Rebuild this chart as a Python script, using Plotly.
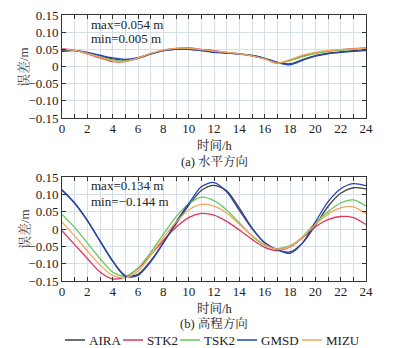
import plotly.graph_objects as go

# Hourly epochs (h)
hours = list(range(25))

# Horizontal error (m)
h_aira = [0.046, 0.047, 0.040, 0.031, 0.022, 0.018, 0.024, 0.036, 0.046, 0.051, 0.051, 0.047, 0.043, 0.040, 0.037, 0.032, 0.024, 0.012, 0.008, 0.020, 0.032, 0.039, 0.043, 0.046, 0.049]
h_stk2 = [0.051, 0.047, 0.037, 0.025, 0.014, 0.014, 0.024, 0.037, 0.048, 0.053, 0.054, 0.050, 0.046, 0.041, 0.037, 0.031, 0.022, 0.009, 0.018, 0.030, 0.039, 0.045, 0.049, 0.052, 0.054]
h_tsk2 = [0.049, 0.047, 0.039, 0.029, 0.019, 0.016, 0.025, 0.037, 0.047, 0.052, 0.052, 0.048, 0.044, 0.040, 0.037, 0.031, 0.023, 0.011, 0.017, 0.029, 0.038, 0.044, 0.048, 0.050, 0.052]
h_gmsd = [0.044, 0.046, 0.041, 0.033, 0.025, 0.021, 0.026, 0.037, 0.046, 0.050, 0.050, 0.046, 0.041, 0.039, 0.036, 0.032, 0.024, 0.012, 0.005, 0.018, 0.030, 0.037, 0.041, 0.044, 0.046]
h_mizu = [0.050, 0.047, 0.038, 0.027, 0.016, 0.015, 0.025, 0.038, 0.048, 0.053, 0.053, 0.049, 0.045, 0.041, 0.037, 0.031, 0.022, 0.010, 0.020, 0.033, 0.041, 0.046, 0.049, 0.051, 0.053]

# Vertical error (m)
v_aira = [0.112, 0.074, 0.024, -0.034, -0.092, -0.134, -0.131, -0.092, -0.040, 0.015, 0.068, 0.111, 0.126, 0.110, 0.060, 0.003, -0.040, -0.060, -0.066, -0.040, 0.010, 0.065, 0.103, 0.119, 0.116]
v_stk2 = [-0.005, -0.045, -0.085, -0.124, -0.144, -0.138, -0.114, -0.075, -0.033, 0.005, 0.033, 0.045, 0.040, 0.022, -0.003, -0.030, -0.053, -0.062, -0.052, -0.025, 0.006, 0.027, 0.036, 0.033, 0.013]
v_tsk2 = [0.042, 0.004, -0.040, -0.085, -0.124, -0.136, -0.113, -0.068, -0.015, 0.035, 0.072, 0.092, 0.082, 0.055, 0.018, -0.020, -0.047, -0.057, -0.048, -0.022, 0.018, 0.050, 0.075, 0.084, 0.066]
v_gmsd = [0.113, 0.075, 0.025, -0.035, -0.093, -0.137, -0.134, -0.095, -0.040, 0.020, 0.073, 0.122, 0.134, 0.107, 0.054, 0.001, -0.040, -0.060, -0.070, -0.040, 0.020, 0.078, 0.116, 0.131, 0.125]
v_mizu = [0.020, -0.020, -0.063, -0.104, -0.134, -0.140, -0.122, -0.075, -0.025, 0.020, 0.055, 0.071, 0.066, 0.046, 0.014, -0.018, -0.045, -0.058, -0.051, -0.024, 0.013, 0.043, 0.061, 0.064, 0.044]

stations = ["AIRA", "STK2", "TSK2", "GMSD", "MIZU"]
colors = ["#404040", "#e0365a", "#62c957", "#2342b5", "#f4a55a"]
horiz = [h_aira, h_stk2, h_tsk2, h_gmsd, h_mizu]
vert = [v_aira, v_stk2, v_tsk2, v_gmsd, v_mizu]

y_ticks = [0.15, 0.10, 0.05, 0, -0.05, -0.10, -0.15]
y_labels = ["0.15", "0.10", "0.05", "0", "\u22120.05", "\u22120.10", "\u22120.15"]

W, H = 393, 348
SERIF = "Liberation Serif, Times New Roman, serif"
CJK = "Liberation Serif, Noto Serif CJK SC, Noto Sans CJK SC, serif"


def px(x):
    return x / W


def py(y):
    return 1 - y / H


fig = go.Figure()

for name, col, hv, vv in zip(stations, colors, horiz, vert):
    for xa, ya, vals in (("x", "y", hv), ("x2", "y2", vv)):
        fig.add_trace(go.Scatter(x=hours, y=vals, mode="lines", name=name,
                                 line=dict(color=col, width=1.3, shape="spline", smoothing=0.8),
                                 xaxis=xa, yaxis=ya, showlegend=False))

xcommon = dict(range=[0, 24], dtick=2, tick0=0, ticks="inside", ticklen=4, tickwidth=1,
               tickcolor="#333", showline=True, linecolor="#333", linewidth=1, mirror="ticks",
               showgrid=True, gridcolor="#d6dfe8", gridwidth=1, zeroline=False,
               ticklabelstandoff=-2,
               tickfont=dict(family=SERIF, size=13, color="#222"),
               minor=dict(dtick=1, ticks="inside", ticklen=4, tickcolor="#333",
                          showgrid=True, gridcolor="#d6dfe8", gridwidth=1))
ycommon = dict(range=[-0.15, 0.15], tickvals=y_ticks, ticktext=y_labels, ticks="inside", ticklen=4,
               tickwidth=1, tickcolor="#333", showline=True, linecolor="#333", linewidth=1,
               mirror="ticks", showgrid=True, gridcolor="#d6dfe8", gridwidth=1, zeroline=False,
               tickfont=dict(family=SERIF, size=13, color="#222"))

fig.update_layout(
    width=W, height=H,
    margin=dict(l=0, r=0, t=0, b=0, autoexpand=False),
    paper_bgcolor="white", plot_bgcolor="white",
    showlegend=False,
    xaxis=dict(domain=[px(62), px(366)], anchor="y", **xcommon),
    yaxis=dict(domain=[py(118), py(15)], anchor="x", **ycommon),
    xaxis2=dict(domain=[px(62), px(366)], anchor="y2", **xcommon),
    yaxis2=dict(domain=[py(281), py(177)], anchor="x2", **ycommon),
)

ann = []
shapes = []
txt = dict(family=SERIF, size=13, color="#222")
cjk = dict(family=CJK, size=12.5, color="#222")
ann.append(dict(text="max=0.054 m", x=px(89), y=py(24), xanchor="left", yanchor="middle"))
ann.append(dict(text="min=0.005 m", x=px(89), y=py(39), xanchor="left", yanchor="middle"))
ann.append(dict(text="max=0.134 m", x=px(89), y=py(186), xanchor="left", yanchor="middle"))
ann.append(dict(text="min=\u22120.144 m", x=px(89), y=py(201), xanchor="left", yanchor="middle"))
ann.append(dict(text="时间/h", x=px(215), y=py(145), xanchor="center", yanchor="middle", font=cjk))
ann.append(dict(text="(a) 水平方向", x=px(214), y=py(161), xanchor="center", yanchor="middle", font=cjk))
ann.append(dict(text="时间/h", x=px(215), y=py(308), xanchor="center", yanchor="middle", font=cjk))
ann.append(dict(text="(b) 高程方向", x=px(214), y=py(323), xanchor="center", yanchor="middle", font=cjk))
ann.append(dict(text="误差/m", x=px(24), y=py(67), xanchor="center", yanchor="middle", textangle=-90,
                font=dict(family=CJK, size=13, color="#444")))
ann.append(dict(text="误差/m", x=px(24), y=py(229), xanchor="center", yanchor="middle", textangle=-90,
                font=dict(family=CJK, size=13, color="#444")))

# Key row beneath the lower panel
key_x = [65, 123, 180, 237, 302]
key_y = 340
for name, col, kx in zip(stations, colors, key_x):
    shapes.append(dict(type="line", xref="paper", yref="paper",
                       x0=px(kx), x1=px(kx + 20), y0=py(key_y), y1=py(key_y),
                       line=dict(color=col, width=1.5)))
    ann.append(dict(text=name, x=px(kx + 22), y=py(key_y), xanchor="left", yanchor="middle"))

for a in ann:
    a.setdefault("font", txt)
    a.update(xref="paper", yref="paper", showarrow=False)
fig.update_layout(annotations=ann, shapes=shapes)

fig.write_html("out.html")
